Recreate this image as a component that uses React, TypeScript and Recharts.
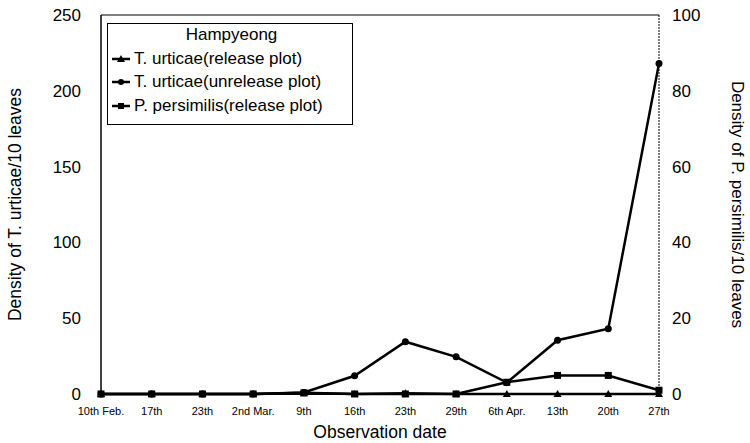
import React from 'react';
import { LineChart, Line, XAxis, YAxis, ReferenceLine } from 'recharts';

const dates = ['10th Feb.', '17th', '23th', '2nd Mar.', '9th', '16th', '23th', '29th', '6th Apr.', '13th', '20th', '27th'];
const urticaeRelease = [0, 0, 0, 0, 0.5, 0, 0.5, 0, 0, 0, 0, 0];
const urticaeUnrelease = [0, 0, 0, 0, 1, 12, 34.5, 24.5, 7.5, 35.5, 43, 218];
const persimilisRelease = [0, 0, 0, 0, 0.3, 0, 0, 0, 3.1, 4.9, 4.9, 1];
const leftTicks = [0, 50, 100, 150, 200, 250];
const rightTicks = [0, 20, 40, 60, 80, 100];

const data = dates.map((d, i) => ({
  idx: i,
  release: urticaeRelease[i],
  unrelease: urticaeUnrelease[i],
  persimilis: persimilisRelease[i],
}));

const FONT = '"Liberation Sans", Arial, sans-serif';

const Triangle = (props: any) => {
  const { cx, cy, index } = props;
  if (cx == null || cy == null) return null;
  return <path key={`t-${index}`} d={`M${cx},${cy - 4} L${cx + 4},${cy + 3} L${cx - 4},${cy + 3} Z`} fill="#000" />;
};

const Circle = (props: any) => {
  const { cx, cy, index } = props;
  if (cx == null || cy == null) return null;
  return <circle key={`c-${index}`} cx={cx} cy={cy} r={3.5} fill="#000" />;
};

const Square = (props: any) => {
  const { cx, cy, index } = props;
  if (cx == null || cy == null) return null;
  return <rect key={`s-${index}`} x={cx - 3.5} y={cy - 3.5} width={7} height={7} fill="#000" />;
};

const legendItems = [
  { name: 'T. urticae(release plot)', marker: 'tri' },
  { name: 'T. urticae(unrelease plot)', marker: 'circle' },
  { name: 'P. persimilis(release plot)', marker: 'square' },
];

function LegendBox() {
  return (
    <div
      style={{
        position: 'absolute',
        left: 107,
        top: 23,
        border: '1.5px solid #000',
        background: '#fff',
        width: 246,
        height: 102,
        boxSizing: 'border-box',
        fontFamily: FONT,
        fontSize: 17,
        color: '#000',
        padding: '1px 0 0 3px',
      }}
    >
      <div style={{ textAlign: 'center', lineHeight: '20px', marginBottom: 2 }}>Hampyeong</div>
      {legendItems.map((item) => (
        <div key={item.name} style={{ display: 'flex', alignItems: 'center', height: 23.5 }}>
          <svg width={20} height={10} style={{ marginRight: 3 }}>
            <line x1={1} y1={5} x2={19} y2={5} stroke="#000" strokeWidth={2.5} />
            {item.marker === 'tri' && <path d="M10,1 L14,8 L6,8 Z" fill="#000" />}
            {item.marker === 'circle' && <circle cx={10} cy={5} r={3} fill="#000" />}
            {item.marker === 'square' && <rect x={7} y={2} width={6} height={6} fill="#000" />}
          </svg>
          <span>{item.name}</span>
        </div>
      ))}
    </div>
  );
}

export default function App() {
  return (
    <div style={{ position: 'absolute', left: 0, top: 0, width: 750, height: 443, background: '#fff' }}>
      <LineChart width={750} height={443} data={data} margin={{ top: 15, right: 0, bottom: 0, left: 0 }}>
        <XAxis
          dataKey="idx"
          type="category"
          tickFormatter={(i: number) => dates[i]}
          interval={0}
          height={49}
          tickSize={0}
          tickMargin={13}
          tick={{ fontSize: 11, fill: '#000', fontFamily: FONT }}
          axisLine={{ stroke: '#000', strokeWidth: 2 }}
          label={{ value: 'Observation date', position: 'insideBottom', offset: 5, fontSize: 17.5, fill: '#000', fontFamily: FONT }}
        />
        <YAxis
          yAxisId="left"
          domain={[0, 250]}
          ticks={leftTicks}
          width={101}
          tickSize={0}
          tickMargin={20}
          tick={{ fontSize: 17, fill: '#000', fontFamily: FONT }}
          axisLine={{ stroke: '#000', strokeWidth: 1.5 }}
          label={{
            value: 'Density of T. urticae/10 leaves',
            angle: -90,
            position: 'insideLeft',
            offset: 15,
            fontSize: 17.5,
            fill: '#000',
            fontFamily: FONT,
            style: { textAnchor: 'middle' },
          }}
        />
        <YAxis
          yAxisId="right"
          orientation="right"
          domain={[0, 100]}
          ticks={rightTicks}
          width={91}
          tickSize={0}
          tickMargin={13}
          tick={{ fontSize: 17, fill: '#000', fontFamily: FONT, textAnchor: 'start' }}
          axisLine={{ stroke: '#000', strokeWidth: 1, strokeDasharray: '2 1' }}
          label={{
            value: 'Density of P. persimilis/10 leaves',
            angle: 90,
            position: 'insideRight',
            offset: 12,
            fontSize: 17,
            fill: '#000',
            fontFamily: FONT,
            style: { textAnchor: 'middle' },
          }}
        />
        <ReferenceLine yAxisId="left" y={250} stroke="#000" strokeWidth={1.2} />
        <Line
          yAxisId="left"
          dataKey="release"
          name="T. urticae(release plot)"
          stroke="#000"
          strokeWidth={2.5}
          dot={Triangle}
          isAnimationActive={false}
        />
        <Line
          yAxisId="left"
          dataKey="unrelease"
          name="T. urticae(unrelease plot)"
          stroke="#000"
          strokeWidth={2.5}
          dot={Circle}
          isAnimationActive={false}
        />
        <Line
          yAxisId="right"
          dataKey="persimilis"
          name="P. persimilis(release plot)"
          stroke="#000"
          strokeWidth={2.5}
          dot={Square}
          isAnimationActive={false}
        />
      </LineChart>
      <LegendBox />
    </div>
  );
}
